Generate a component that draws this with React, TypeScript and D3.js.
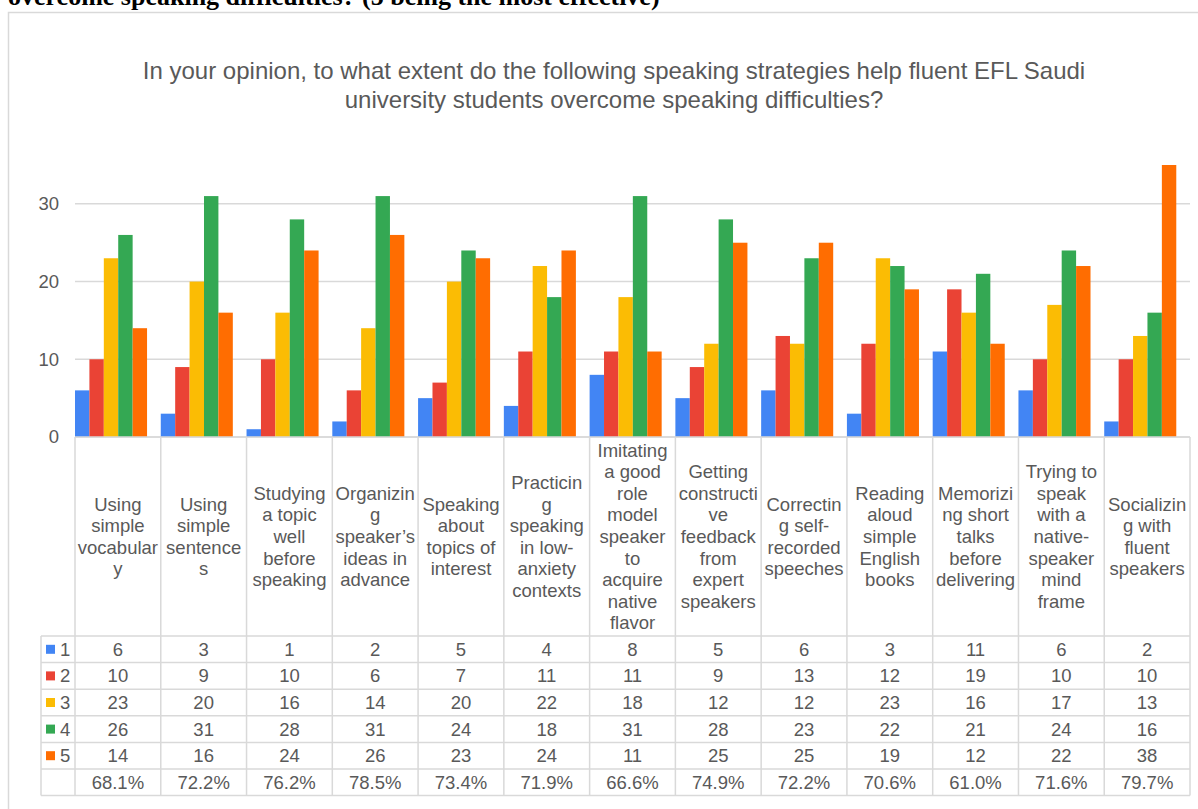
import * as d3 from 'd3';

// categories as they wrap in the original chart's data table
const categories: string[][] = [
  ['Using', 'simple', 'vocabular', 'y'],
  ['Using', 'simple', 'sentence', 's'],
  ['Studying', 'a topic', 'well', 'before', 'speaking'],
  ['Organizin', 'g', 'speaker\u2019s', 'ideas in', 'advance'],
  ['Speaking', 'about', 'topics of', 'interest'],
  ['Practicin', 'g', 'speaking', 'in low-', 'anxiety', 'contexts'],
  ['Imitating', 'a good', 'role', 'model', 'speaker', 'to', 'acquire', 'native', 'flavor'],
  ['Getting', 'constructi', 've', 'feedback', 'from', 'expert', 'speakers'],
  ['Correctin', 'g self-', 'recorded', 'speeches'],
  ['Reading', 'aloud', 'simple', 'English', 'books'],
  ['Memorizi', 'ng short', 'talks', 'before', 'delivering'],
  ['Trying to', 'speak', 'with a', 'native-', 'speaker', 'mind', 'frame'],
  ['Socializin', 'g with', 'fluent', 'speakers'],
];

const seriesNames = ['1', '2', '3', '4', '5'];
const s1 = [6, 3, 1, 2, 5, 4, 8, 5, 6, 3, 11, 6, 2];
const s2 = [10, 9, 10, 6, 7, 11, 11, 9, 13, 12, 19, 10, 10];
const s3 = [23, 20, 16, 14, 20, 22, 18, 12, 12, 23, 16, 17, 13];
const s4 = [26, 31, 28, 31, 24, 18, 31, 28, 23, 22, 21, 24, 16];
const s5 = [14, 16, 24, 26, 23, 24, 11, 25, 25, 19, 12, 22, 38];
const percents = ['68.1%', '72.2%', '76.2%', '78.5%', '73.4%', '71.9%', '66.6%', '74.9%', '72.2%', '70.6%', '61.0%', '71.6%', '79.7%'];
const yTicks = [0, 10, 20, 30];

const series = [s1, s2, s3, s4, s5];
const colors = ['#4285F4', '#EA4335', '#FBBC04', '#34A853', '#FF6D01'];

const W = 1198;
const H = 809;
const font = '"Liberation Sans", Arial, sans-serif';
const textColor = '#595959';
const lineColor = '#d9d9d9';

export default function App(): JSX.Element {
  const plotLeft = 75;
  const plotRight = 1190;
  const plotTop = 165;
  const plotBottom = 437;
  const labelRowBottom = 636;
  const rowH = 26.6;
  const legendLeft = 41;

  const x = d3.scaleBand<number>().domain(d3.range(categories.length)).range([plotLeft, plotRight]).padding(0);
  const bw = x.bandwidth();
  const xs = d3.scaleBand<number>().domain(d3.range(series.length)).range([0, bw * 0.84]).padding(0);
  const y = d3.scaleLinear().domain([0, 35]).range([plotBottom, plotTop]);

  const rowY = (i: number) => labelRowBottom + i * rowH;
  const tableBottom = rowY(series.length + 1);
  const labelLineH = 21.6;
  const fs = 18.5;

  return (
    <svg width={W} height={H} style={{ position: 'absolute', left: 0, top: 0, background: '#fff' }} fontFamily={font}>
      <defs>
        <clipPath id="plot">
          <rect x={plotLeft} y={plotTop} width={plotRight - plotLeft} height={plotBottom - plotTop} />
        </clipPath>
      </defs>

      {/* caption from the surrounding document, cut off at the top */}
      <text x={8} y={5} fontFamily='"Liberation Serif", "Times New Roman", serif' fontWeight="bold" fontSize={26} fill="#000">
        overcome speaking difficulties? (5 being the most effective)
      </text>

      {/* chart frame */}
      <rect x={8.5} y={12.5} width={W + 10} height={H + 10} fill="#fff" stroke={lineColor} strokeWidth={1.5} />

      <text textAnchor="middle" fontSize={24} fill={textColor}>
        <tspan x={614} y={79}>In your opinion, to what extent do the following speaking strategies help fluent EFL Saudi</tspan>
        <tspan x={614} y={108}>university students overcome speaking difficulties?</tspan>
      </text>

      {/* gridlines and y labels */}
      {yTicks.map((t) => (
        <g key={t}>
          <line x1={plotLeft} x2={plotRight} y1={y(t)} y2={y(t)} stroke={lineColor} strokeWidth={1.5} />
          <text x={59} y={y(t)} dy="0.35em" textAnchor="end" fontSize={fs} fill={textColor}>
            {t}
          </text>
        </g>
      ))}

      {/* bars */}
      <g clipPath="url(#plot)">
        {series.map((vals, si) =>
          vals.map((v, ci) => (
            <rect
              key={`${si}-${ci}`}
              x={(x(ci) ?? 0) + (xs(si) ?? 0)}
              y={y(v)}
              width={xs.bandwidth()}
              height={plotBottom - y(v)}
              fill={colors[si]}
            />
          ))
        )}
      </g>

      {/* data table grid */}
      <g stroke={lineColor} strokeWidth={1.5}>
        {d3.range(categories.length + 1).map((i) => {
          const xx = plotLeft + i * bw;
          return <line key={`v${i}`} x1={xx} x2={xx} y1={plotBottom} y2={tableBottom} />;
        })}
        <line x1={legendLeft} x2={legendLeft} y1={labelRowBottom} y2={tableBottom} />
        <line x1={plotLeft} x2={plotRight} y1={plotBottom} y2={plotBottom} />
        {d3.range(series.length + 2).map((r) => (
          <line key={`h${r}`} x1={legendLeft} x2={plotRight} y1={rowY(r)} y2={rowY(r)} />
        ))}
      </g>

      {/* category labels */}
      {categories.map((lines, ci) => {
        const cx = (x(ci) ?? 0) + bw / 2;
        const cy = (plotBottom + labelRowBottom) / 2;
        const start = cy - ((lines.length - 1) * labelLineH) / 2;
        return (
          <text key={`c${ci}`} textAnchor="middle" fontSize={fs} fill={textColor}>
            {lines.map((l, li) => (
              <tspan key={li} x={cx} y={start + li * labelLineH} dy="0.35em">
                {l}
              </tspan>
            ))}
          </text>
        );
      })}

      {/* legend keys and values */}
      {series.map((vals, si) => {
        const cy = rowY(si) + rowH / 2;
        return (
          <g key={`r${si}`}>
            <rect x={46} y={cy - 4.5} width={9} height={9} fill={colors[si]} />
            <text x={60} y={cy} dy="0.35em" fontSize={fs} fill={textColor}>
              {seriesNames[si]}
            </text>
            {vals.map((v, ci) => (
              <text key={ci} x={(x(ci) ?? 0) + bw / 2} y={cy} dy="0.35em" textAnchor="middle" fontSize={fs} fill={textColor}>
                {v}
              </text>
            ))}
          </g>
        );
      })}
      {percents.map((p, ci) => (
        <text
          key={`p${ci}`}
          x={(x(ci) ?? 0) + bw / 2}
          y={rowY(series.length) + rowH / 2}
          dy="0.35em"
          textAnchor="middle"
          fontSize={fs}
          fill={textColor}
        >
          {p}
        </text>
      ))}
    </svg>
  );
}
